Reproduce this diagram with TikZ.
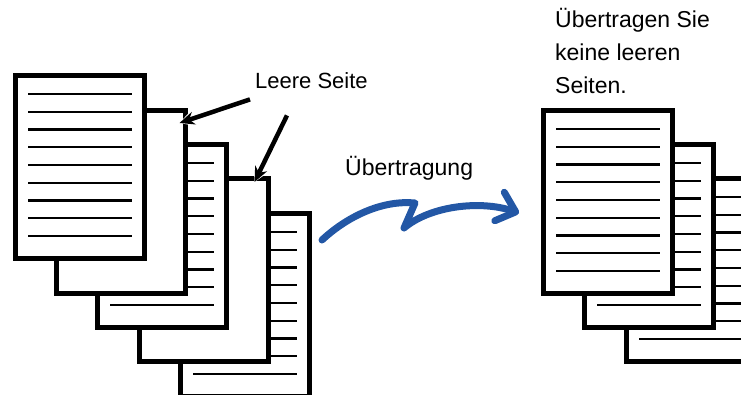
\documentclass[tikz,border=0pt]{standalone}
\usepackage{fontspec}
\setmainfont{Liberation Sans}
\usetikzlibrary{arrows.meta}
\definecolor{sendblue}{RGB}{35,87,165}
\tikzset{
    page/.style={draw, fill=white, line width=4.5pt, minimum width=129pt, minimum height=183pt, inner sep=0pt, anchor=north west},
    textline/.style={line width=2.2pt},
    txt/.style={font=\fontsize{23}{33}\selectfont, inner sep=0pt},
    halo/.style={white, line width=11pt, -{Stealth[length=20pt, width=22pt]}},
}
\begin{document}
\begin{tikzpicture}[x=1pt, y=-1pt, >={Stealth[length=15pt, width=13pt]}]
        \useasboundingbox (0,0) rectangle (741,394);

        % Original stack: pages 2 and 4 are blank
        \foreach \i/\x/\y/\full in {5/178/211/1, 4/137/176/0, 3/95/142/1, 2/54/108/0, 1/13/73/1} {
            \node[page] (p\i) at (\x, \y) {};
            \ifnum\full=1
                \foreach \k in {0,...,8}
                    \draw[textline] ([shift={(15, 21+17.75*\k)}]p\i.north west) -- ([shift={(-15, 21+17.75*\k)}]p\i.north east);
            \fi
        }

        % Blank page callout
        \node[txt, font=\fontsize{22}{33}\selectfont, anchor=base west] (blank) at (255, 88) {Leere Seite};
        \coordinate (tip1) at ([shift={(-8, 15)}]p2.north east);
        \coordinate (tip2) at ([shift={(-16, 6)}]p4.north east);
        \foreach \dx/\dy/\t in {-5/11/tip1, 32/27/tip2} {
            \draw[halo] ([shift={(\dx, \dy)}]blank.south west) -- (\t);
            \draw[->, line width=4.5pt] ([shift={(\dx, \dy)}]blank.south west) -- (\t);
        }

        % Transmission arrow
        \node[txt, anchor=base west] (send) at (345, 175) {Übertragung};
        \coordinate (send start) at (322, 240);
        \coordinate (send end) at (519, 213);
        \draw[sendblue, line width=7pt, line cap=round, line join=round, -{Straight Barb[length=17pt, width=30pt, round]}]
            (send start) .. controls (350, 214) and (385, 200) .. (415, 203) -- (404, 228)
            .. controls (430, 206) and (480, 200) .. (send end);

        % Result: only the printed pages
        \foreach \i/\x/\y in {3/624/176, 2/582/142, 1/541/108} {
            \node[page] (q\i) at (\x, \y) {};
            \foreach \k in {0,...,8}
                \draw[textline] ([shift={(15, 21+17.75*\k)}]q\i.north west) -- ([shift={(-15, 21+17.75*\k)}]q\i.north east);
        }
        \node[txt, align=left, anchor=north west] (note) at (555, 8) {Übertragen Sie\\keine leeren\\Seiten.};
\end{tikzpicture}
\end{document}
